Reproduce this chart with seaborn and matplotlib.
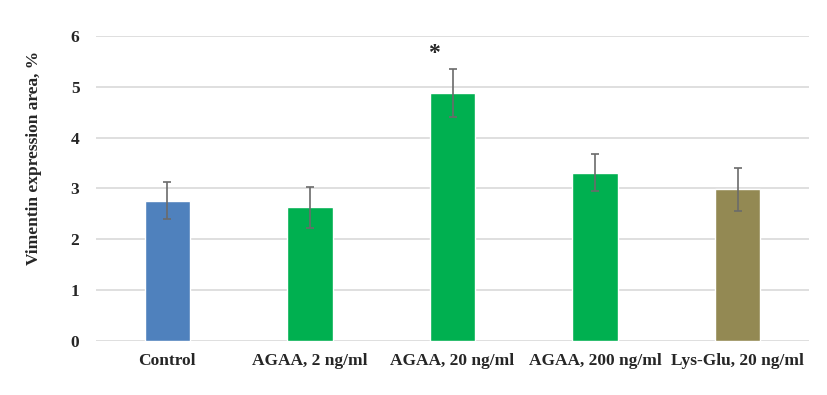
import matplotlib
matplotlib.use("Agg")
import matplotlib.pyplot as plt
import pandas as pd
import seaborn as sns

groups = ["Control", "AGAA, 2 ng/ml", "AGAA, 20 ng/ml", "AGAA, 200 ng/ml", "Lys-Glu, 20 ng/ml"]
means = [2.76, 2.63, 4.87, 3.31, 2.98]
errors = [0.36, 0.40, 0.47, 0.37, 0.43]
colors = ["#4F81BD", "#00B050", "#00B050", "#00B050", "#938953"]
yticks = [0, 1, 2, 3, 4, 5, 6]

FONT = {"family": "Liberation Serif", "weight": "bold", "size": 12.5}

sns.set_style("white")
plt.rcParams["font.family"] = ["Liberation Serif", "DejaVu Serif"]

df = pd.DataFrame({"group": groups, "mean": means, "err": errors})

fig = plt.figure(figsize=(8.28, 3.95), dpi=100)
ax = fig.add_axes([0.116, 0.137, 0.861, 0.772])

sns.barplot(data=df, x="group", y="mean", hue="group", palette=colors,
            width=0.32, legend=False, ax=ax, zorder=3, saturation=1)
ax.errorbar(range(len(groups)), df["mean"], yerr=df["err"], fmt="none",
            ecolor="#6b6b6b", elinewidth=1.2, capsize=3, capthick=1.2, zorder=4)

# significance mark
ax.text(2 - 0.13, 5.66, "*", ha="center", va="center", fontdict={**FONT, "size": 17})

ax.set_ylim(0, 6)
ax.set_xlim(-0.5, len(groups) - 0.5)
ax.set_yticks(yticks)
ax.set_yticklabels([str(t) for t in yticks], fontdict=FONT)
ax.set_xticks(range(len(groups)))
ax.set_xticklabels(groups, fontdict=FONT)
ax.tick_params(axis="y", length=0, pad=12)
ax.tick_params(axis="x", length=0, pad=9)
ax.set_xlabel("")
ax.set_ylabel("Vimentin expression area, %", fontdict=FONT)
ax.yaxis.set_label_coords(-0.076, 0.6)

ax.yaxis.grid(True, color="#D9D9D9", linewidth=1.2, zorder=0)
ax.set_axisbelow(True)
for s in ax.spines.values():
    s.set_visible(False)

fig.savefig("out.png", dpi=100)
